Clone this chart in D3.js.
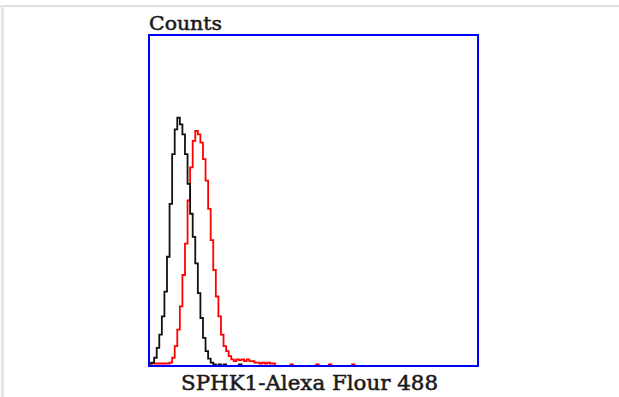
<!DOCTYPE html>
<html>
<head>
<meta charset="utf-8">
<script src="https://cdn.jsdelivr.net/npm/d3@7"></script>
<style>
  body { margin: 0; background: #fff; }
  svg { display: block; }
</style>
</head>
<body>
<div id="chart"></div>
<script>
// histogram data: counts per 2-channel bin, starting at channel 0
var binWidth = 2;
var controlCounts = [1.5, 2, 5, 11, 19, 30, 45, 66, 98, 128, 143, 150, 146, 140, 128, 110,
  92, 78, 62, 44, 29, 17, 9, 4.5, 2, 1, 0, 1, 0, 1, 0, 0, 0, 0, 0, 1, 0, 0, 0];
var sampleCounts = [1.5, 1.5, 1.5, 1.5, 1.5, 1.5, 1.5, 1.5, 2, 5, 12, 22, 36, 55, 74, 100,
  120, 136, 142, 140, 135, 125, 112, 95, 76, 58, 42, 30, 19, 12, 9, 6,
  4, 3, 4, 3.5, 4, 3, 4, 3, 3, 2, 2, 1.5, 2, 1.5, 2, 1.5,
  1.5, 0, 0, 0, 0, 0, 0, 1, 0, 0, 0, 0, 0, 0, 0, 0,
  0, 1, 0, 0, 0, 0, 1, 0, 0, 0, 0, 0, 0, 0, 0, 1,
  0, 0, 0];
var yLabel = "Counts";
var xLabel = "SPHK1-Alexa Flour 488";

var svgWidth = 619;
var svgHeight = 397;
var box = { left: 149, top: 35, right: 478, bottom: 366 };

var svg = d3.select("#chart")
  .append("svg")
  .attr("width", svgWidth)
  .attr("height", svgHeight);

// light gray page frame (top and left only)
svg.append("rect").attr("x", 0).attr("y", 5).attr("width", svgWidth).attr("height", 2).attr("fill", "#dedede");
svg.append("rect").attr("x", 1).attr("y", 5).attr("width", 3).attr("height", svgHeight).attr("fill", "#e6e6e6");

var xScale = d3.scaleLinear()
  .domain([0, 256])
  .range([box.left, box.right]);

var yScale = d3.scaleLinear()
  .domain([0, 200])
  .range([box.bottom, box.top]);

function toPoints(counts) {
  var pts = counts.map(function(c, i) { return [i * binWidth, c]; });
  pts.push([counts.length * binWidth, 0]);
  return pts;
}

var line = d3.line()
  .x(function(d) { return xScale(d[0]); })
  .y(function(d) { return yScale(d[1]); })
  .curve(d3.curveStepAfter);

svg.append("path")
  .attr("d", line(toPoints(sampleCounts)))
  .attr("fill", "none")
  .attr("stroke", "#ff0000")
  .attr("stroke-width", 1.8);

svg.append("path")
  .attr("d", line(toPoints(controlCounts)))
  .attr("fill", "none")
  .attr("stroke", "#111")
  .attr("stroke-width", 1.8);

// blue plot frame
svg.append("rect")
  .attr("x", box.left)
  .attr("y", box.top)
  .attr("width", box.right - box.left)
  .attr("height", box.bottom - box.top)
  .attr("fill", "none")
  .attr("stroke", "#0000ff")
  .attr("stroke-width", 2);

// labels
svg.append("text")
  .attr("x", 149)
  .attr("y", 30)
  .attr("font-family", "DejaVu Serif")
  .attr("font-size", 18)
  .attr("fill", "#1a1a1a")
  .attr("stroke", "#1a1a1a")
  .attr("stroke-width", 0.5)
  .attr("textLength", 73)
  .attr("lengthAdjust", "spacingAndGlyphs")
  .text(yLabel);

svg.append("text")
  .attr("x", 181)
  .attr("y", 390)
  .attr("font-family", "DejaVu Serif")
  .attr("font-size", 20)
  .attr("fill", "#1a1a1a")
  .attr("stroke", "#1a1a1a")
  .attr("stroke-width", 0.5)
  .attr("textLength", 257)
  .attr("lengthAdjust", "spacingAndGlyphs")
  .text(xLabel);
</script>
</body>
</html>
